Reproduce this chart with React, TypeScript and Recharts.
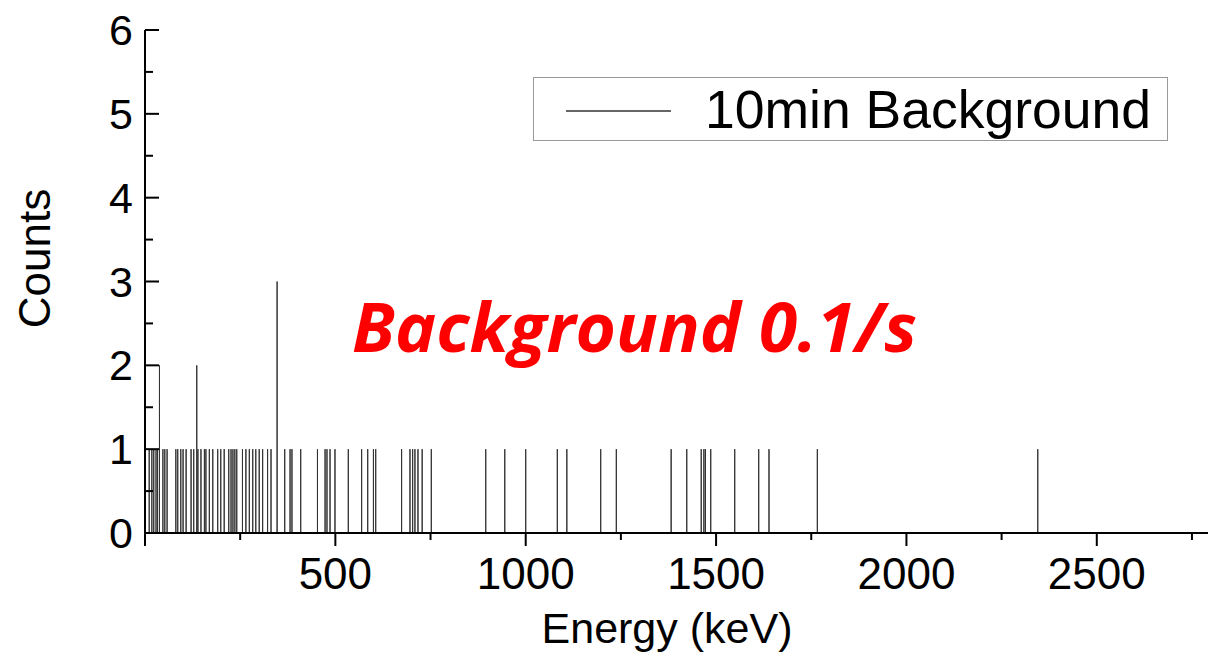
import React from "react";
import { LineChart, Line, XAxis, YAxis, Legend } from "recharts";

// Energies (keV) of the recorded background events and their counts
const eventEnergy = [
  11, 18, 23, 29, 33, 38, 47, 52, 58, 81, 86, 94, 100, 108, 121, 128, 136, 139, 147, 156,
  160, 169, 178, 191, 199, 208, 220, 226, 231, 236, 241, 256, 265, 274, 283, 291, 300, 309,
  322, 331, 347, 367, 381, 386, 409, 453, 473, 478, 486, 499, 534, 569, 585, 600, 606, 674,
  696, 703, 709, 717, 728, 752, 895, 945, 1000, 1083, 1108, 1197, 1238, 1382, 1423, 1461,
  1468, 1472, 1486, 1549, 1612, 1639, 1766, 2345,
];
const eventCounts = [
  1, 1, 1, 1, 1, 2, 1, 1, 1, 1, 1, 1, 1, 1, 1, 1, 2, 1, 1, 1,
  1, 1, 1, 1, 1, 1, 1, 1, 1, 1, 1, 1, 1, 1, 1, 1, 1, 1,
  1, 1, 3, 1, 1, 1, 1, 1, 1, 1, 1, 1, 1, 1, 1, 1, 1, 1,
  1, 1, 1, 1, 1, 1, 1, 1, 1, 1, 1, 1, 1, 1, 1, 1,
  1, 1, 1, 1, 1, 1, 1, 1,
];

const energyDomain = [0, 2800];
const energyTicks = [0, 250, 500, 750, 1000, 1250, 1500, 1750, 2000, 2250, 2500, 2750];
const countTicks = [0, 0.5, 1, 1.5, 2, 2.5, 3, 3.5, 4, 4.5, 5, 5.5, 6];

const seriesName = "10min Background";
const noteText = "Background 0.1/s";

// spectrum line: baseline with a spike at every event
const spectrum: { e: number; c: number }[] = [{ e: energyDomain[0], c: 0 }];
eventEnergy.forEach((e, i) => {
  spectrum.push({ e, c: 0 }, { e, c: eventCounts[i] }, { e, c: 0 });
});
spectrum.push({ e: energyDomain[1], c: 0 });

const FONT = "'Liberation Sans', Arial, sans-serif";

const BottomTick = ({ x, y, payload }: any) => {
  const v = payload.value;
  const major = v % 500 === 0;
  return (
    <g>
      <line x1={x} x2={x} y1={y} y2={y + (major ? 13 : 7)} stroke="#000" strokeWidth={2} />
      {major && v > 0 && (
        <text x={x} y={y + 56} textAnchor="middle" fontSize={44} fontFamily={FONT} fill="#000">
          {v}
        </text>
      )}
    </g>
  );
};

const TopTick = ({ x, y, payload }: any) => {
  const major = payload.value % 500 === 0;
  return <line x1={x} x2={x} y1={y} y2={y + (major ? 12 : 7)} stroke="#000" strokeWidth={2} />;
};

const LeftTick = ({ x, y, payload }: any) => {
  const v = payload.value;
  const major = Number.isInteger(v);
  return (
    <g>
      <line x1={x} x2={x + (major ? 14 : 8)} y1={y} y2={y} stroke="#000" strokeWidth={2} />
      {major && (
        <text x={x - 12} y={y + 15} textAnchor="end" fontSize={43} fontFamily={FONT} fill="#000">
          {v}
        </text>
      )}
    </g>
  );
};

const RightTick = ({ x, y, payload }: any) => {
  const major = Number.isInteger(payload.value);
  return <line x1={x} x2={x - (major ? 13 : 7)} y1={y} y2={y} stroke="#000" strokeWidth={2} />;
};

const LegendBox = () => (
  <div
    style={{
      boxSizing: "border-box",
      width: 635,
      height: 64,
      border: "1px solid #999",
      background: "#fff",
      position: "relative",
      fontFamily: FONT,
    }}
  >
    <div style={{ position: "absolute", left: 32, top: 32, width: 105, height: 2, background: "#666" }} />
    <div style={{ position: "absolute", left: 171, top: 2, fontSize: 53.5, lineHeight: "60px", color: "#000", whiteSpace: "nowrap" }}>
      {seriesName}
    </div>
  </div>
);

export default function App() {
  return (
    <div style={{ position: "absolute", left: 0, top: 0, width: 1208, height: 656, overflow: "hidden", background: "#fff" }}>
      <LineChart width={1220} height={656} data={spectrum} margin={{ top: 30, right: 9, bottom: 0, left: 0 }}>
        <XAxis
          dataKey="e"
          type="number"
          domain={energyDomain}
          ticks={energyTicks}
          allowDataOverflow
          height={123}
          tickSize={0}
          tickMargin={0}
          tickLine={false}
          tick={<BottomTick />}
          axisLine={{ stroke: "#000", strokeWidth: 2 }}
          label={{
            content: ({ viewBox }: any) => (
              <text
                x={viewBox.x + viewBox.width / 2 - 11}
                y={viewBox.y + viewBox.height - 13}
                textAnchor="middle"
                fontSize={43}
                fontFamily={FONT}
                fill="#000"
              >
                Energy (keV)
              </text>
            ),
          }}
        />
        <XAxis
          xAxisId="top"
          orientation="top"
          dataKey="e"
          type="number"
          domain={energyDomain}
          ticks={energyTicks}
          allowDataOverflow
          height={0}
          tickSize={0}
          tickMargin={0}
          tickLine={false}
          tick={<TopTick />}
          axisLine={{ stroke: "#000", strokeWidth: 2 }}
        />
        <YAxis
          type="number"
          domain={[0, 6]}
          ticks={countTicks}
          width={145}
          tickSize={0}
          tickMargin={0}
          tickLine={false}
          tick={<LeftTick />}
          axisLine={{ stroke: "#000", strokeWidth: 2 }}
          label={{
            content: ({ viewBox }: any) => {
              const cx = viewBox.x + 50;
              const cy = viewBox.y + viewBox.height / 2 - 23;
              return (
                <text
                  x={cx}
                  y={cy}
                  transform={`rotate(-90, ${cx}, ${cy})`}
                  textAnchor="middle"
                  fontSize={44}
                  fontFamily={FONT}
                  fill="#000"
                >
                  Counts
                </text>
              );
            },
          }}
        />
        <YAxis
          yAxisId="r"
          orientation="right"
          type="number"
          domain={[0, 6]}
          ticks={countTicks}
          width={0}
          tickSize={0}
          tickMargin={0}
          tickLine={false}
          tick={<RightTick />}
          axisLine={{ stroke: "#000", strokeWidth: 2 }}
        />
        <Legend
          layout="horizontal"
          align="center"
          verticalAlign="middle"
          content={<LegendBox />}
          wrapperStyle={{ position: "absolute", left: 533, top: 77, width: 635, height: 64 }}
        />
        <Line
          type="linear"
          dataKey="c"
          name={seriesName}
          stroke="#333"
          strokeWidth={1}
          dot={false}
          activeDot={false}
          isAnimationActive={false}
        />
      </LineChart>
      <svg width={1208} height={656} style={{ position: "absolute", left: 0, top: 0, pointerEvents: "none" }}>
        <text
          x={352}
          y={352}
          textLength={565}
          lengthAdjust="spacingAndGlyphs"
          fontSize={68}
          fontWeight="bold"
          fontStyle="italic"
          fontFamily="'Open Sans', 'Noto Sans', sans-serif"
          fill="#ff0000"
        >
          {noteText}
        </text>
      </svg>
    </div>
  );
}
